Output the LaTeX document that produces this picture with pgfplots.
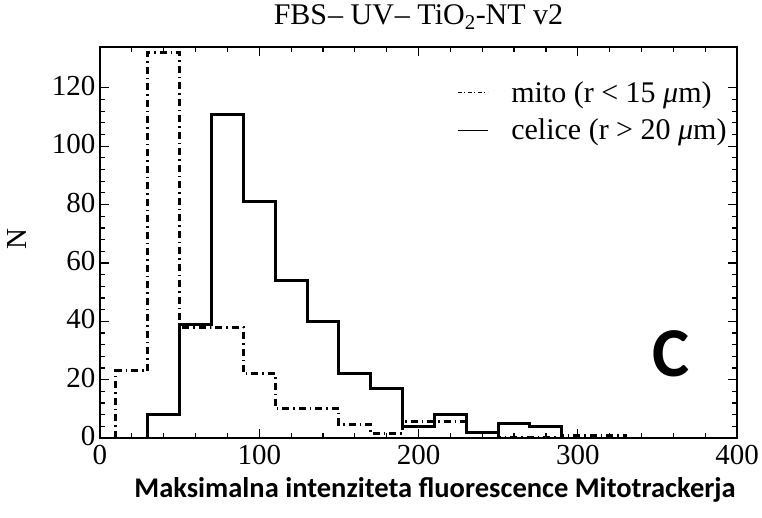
\documentclass[border=0pt]{standalone}
\usepackage{fontspec}
\setmainfont{Liberation Serif}
\newfontfamily\carlito{Carlito}
\usepackage{pgfplots}
\pgfplotsset{compat=1.18}
\begin{document}
\begin{tikzpicture}[x=1pt,y=1pt]
\path[use as bounding box] (0,0) rectangle (762,518);
\begin{axis}[
  at={(100pt,80pt)}, anchor=south west,
  scale only axis, width=637pt, height=391pt,
  xmin=0, xmax=400, ymin=0, ymax=134,
  xtick={0,100,...,400}, minor x tick num=4,
  ytick={0,20,...,120}, minor y tick num=4,
  tick align=inside,
  major tick length=9pt, minor tick length=5pt,
  every tick/.style={black, line width=1.2pt},
  axis line style={line width=1.6pt},
  /pgf/number format/assume math mode=true,
  xticklabel style={font=\fontsize{29}{29}\selectfont, yshift=-4pt},
  yticklabel style={font=\fontsize{29}{29}\selectfont, xshift=-1pt, yshift=2pt},
  title={FBS\kern1pt– UV\kern1pt– TiO\textsubscript{2}-NT v2},
  title style={font=\fontsize{30}{30}\selectfont, inner sep=0pt, at={(axis description cs:0.5,1.042)}, anchor=base},
  xlabel={\carlito\bfseries Maksimalna intenziteta fluorescence Mitotrackerja},
  xlabel style={font=\fontsize{28.5}{28.5}\selectfont, at={(axis description cs:0.526,-0.152)}, anchor=base},
  ylabel={N},
  ylabel style={font=\fontsize{29}{29}\selectfont, at={(axis description cs:-0.13,0.51)}, anchor=center},
  legend style={draw=none, fill=none, at={(axis description cs:0.987,0.917)}, anchor=north east,
    font=\fontsize{30}{36}\selectfont, row sep=11pt, inner sep=0pt},
  legend cell align=left,
]
\addplot[black, line width=3pt, dash pattern=on 7pt off 4pt on 1.5pt off 4pt, const plot mark left,
  legend image code/.code={\draw[black, line width=0.9pt, dash pattern=on 4pt off 2.5pt on 1pt off 2.5pt] (0pt,0pt) -- (30pt,0pt); \path (50pt,0pt);}]
coordinates {(10,0) (10,23) (30,132) (50,38) (70,38) (90,22) (110,10) (130,10) (150,4.5) (170,1.5) (190,5.5) (210,5.5) (230,2) (250,0) (290,1) (330,0)};
\addlegendentry{mito (r < 15 \textit{μ}m)}
\addplot[black, line width=3pt, const plot mark left,
  legend image code/.code={\draw[black, line width=1.2pt] (0pt,0pt) -- (30pt,0pt); \path (50pt,0pt);}]
coordinates {(30,0) (30,8) (50,39) (70,111) (90,81) (110,54) (130,40) (150,22) (170,17) (190,4) (210,8) (230,2) (250,5) (270,4) (290,0)};
\addlegendentry{celice (r > 20 \textit{μ}m)}
\node[font=\carlito\bfseries\fontsize{70}{70}\selectfont, anchor=center] at (axis description cs:0.897,0.215) {C};
\end{axis}
\end{tikzpicture}
\end{document}
